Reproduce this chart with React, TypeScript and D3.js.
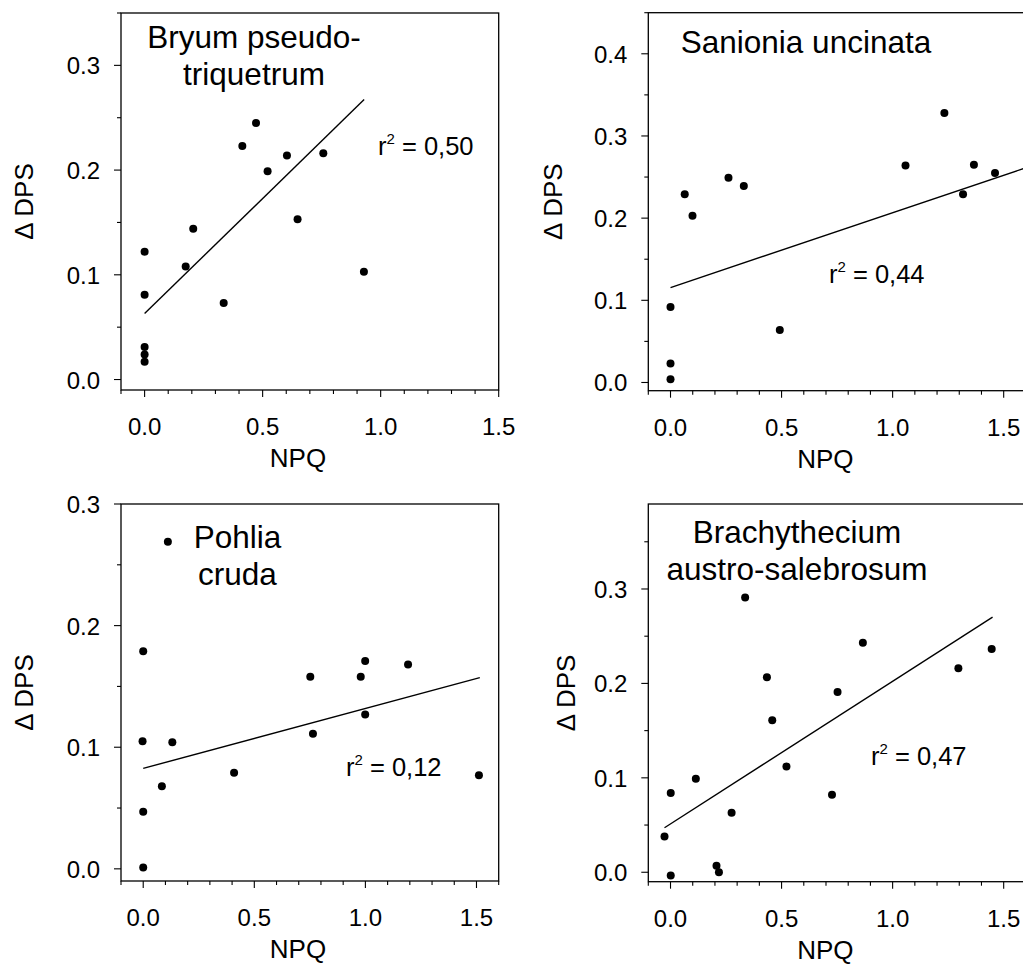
import React from "react";
import * as d3 from "d3";

// ---- data ----
const bryumNPQ = [0, 0, 0, 0, 0, 0.174, 0.206, 0.335, 0.414, 0.472, 0.521, 0.603, 0.648, 0.757, 0.929];
const bryumDPS = [0.122, 0.081, 0.031, 0.024, 0.017, 0.108, 0.144, 0.073, 0.223, 0.245, 0.199, 0.214, 0.153, 0.216, 0.103];

const sanioniaNPQ = [0, 0, 0, 0.064, 0.099, 0.261, 0.33, 0.492, 1.058, 1.233, 1.317, 1.366, 1.461];
const sanioniaDPS = [0.092, 0.023, 0.004, 0.229, 0.203, 0.249, 0.239, 0.064, 0.264, 0.328, 0.229, 0.265, 0.255];

const pohliaNPQ = [0.111, 0, -0.003, 0.131, 0, 0.084, 0, 0.409, 0.752, 0.764, 0.979, 0.999, 0.999, 1.192, 1.511];
const pohliaDPS = [0.269, 0.179, 0.105, 0.104, 0.047, 0.068, 0.001, 0.079, 0.158, 0.111, 0.158, 0.171, 0.127, 0.168, 0.077];

const brachyNPQ = [-0.027, 0.001, 0.001, 0.114, 0.207, 0.218, 0.275, 0.336, 0.434, 0.458, 0.522, 0.727, 0.752, 0.866, 1.296, 1.446];
const brachyDPS = [0.038, 0.084, -0.0035, 0.099, 0.007, 0.0, 0.063, 0.291, 0.2065, 0.161, 0.112, 0.082, 0.191, 0.243, 0.216, 0.2365];

// regression lines: [intercept, slope, xStart, xEnd]
const bryumFit = [0.063, 0.2197, 0, 0.93];
const sanioniaFit = [0.1155, 0.0911, 0, 1.6];
const pohliaFit = [0.0826, 0.0493, 0, 1.515];
const brachyFit = [0.0512, 0.151, -0.027, 1.45];

const r2Labels = ["0,50", "0,44", "0,12", "0,47"];

const xTickValues = [0, 0.5, 1.0, 1.5];
const xTickLabels = ["0.0", "0.5", "1.0", "1.5"];
const yTicksBryum = [0, 0.1, 0.2, 0.3];
const yTicksSanionia = [0, 0.1, 0.2, 0.3, 0.4];
const yTicksPohlia = [0, 0.1, 0.2, 0.3];
const yTicksBrachy = [0, 0.1, 0.2, 0.3];

const FONT = "'Liberation Sans', Arial, Helvetica, sans-serif";

type PanelProps = {
  left: number;
  top: number;
  width: number;
  height: number;
  xDomain: [number, number];
  yDomain: [number, number];
  yTicks: number[];
  npq: number[];
  dps: number[];
  fit: number[];
  title: string[];
  titleX: number;
  titleY: number[];
  r2: string;
  r2X: number;
  r2Y: number;
  yLabelX: number;
};

function Panel(p: PanelProps) {
  const x = d3.scaleLinear().domain(p.xDomain).range([p.left, p.left + p.width]);
  const y = d3.scaleLinear().domain(p.yDomain).range([p.top + p.height, p.top]);
  const bottom = p.top + p.height;
  const xMinor = d3
    .range(Math.round(p.xDomain[0] * 10), Math.round(p.xDomain[1] * 10) + 1)
    .map((k) => k / 10)
    .filter((v) => v <= p.xDomain[1] + 1e-9)
    .filter((v) => !xTickValues.some((m) => Math.abs(m - v) < 1e-6));
  const yMinor = d3
    .range(1, Math.round(p.yDomain[1] * 20) + 1)
    .map((k) => k / 20)
    .filter((v) => v <= p.yDomain[1] + 1e-9)
    .filter((v) => !p.yTicks.some((m) => Math.abs(m - v) < 1e-6));
  const line = d3.line<number>().x((v) => x(v)).y((v) => y(p.fit[0] + p.fit[1] * v));
  const midY = p.top + p.height / 2;
  return (
    <g>
      <rect x={p.left} y={p.top} width={p.width} height={p.height} fill="none" stroke="#000" strokeWidth={1.3} />
      {/* x ticks */}
      {xTickValues.map((v, i) => (
        <g key={"xm" + i}>
          <line x1={x(v)} x2={x(v)} y1={bottom} y2={bottom + 7} stroke="#000" strokeWidth={1.1} />
          <text x={x(v)} y={bottom + 45} textAnchor="middle" fontSize={24} fontFamily={FONT}>
            {xTickLabels[i]}
          </text>
        </g>
      ))}
      {xMinor.map((v, i) => (
        <line key={"xn" + i} x1={x(v)} x2={x(v)} y1={bottom} y2={bottom + 4} stroke="#000" strokeWidth={1.1} />
      ))}
      {/* y ticks */}
      {p.yTicks.map((v, i) => (
        <g key={"ym" + i}>
          <line x1={p.left - 7} x2={p.left} y1={y(v)} y2={y(v)} stroke="#000" strokeWidth={1.1} />
          <text x={p.left - 21} y={y(v) + 9} textAnchor="end" fontSize={24} fontFamily={FONT}>
            {v.toFixed(1)}
          </text>
        </g>
      ))}
      {yMinor.map((v, i) => (
        <line key={"yn" + i} x1={p.left - 4} x2={p.left} y1={y(v)} y2={y(v)} stroke="#000" strokeWidth={1.1} />
      ))}
      {/* axis titles */}
      <text x={p.left + 177} y={bottom + 77} textAnchor="middle" fontSize={26} fontFamily={FONT}>
        NPQ
      </text>
      <text
        transform={`translate(${p.yLabelX},${midY}) rotate(-90)`}
        textAnchor="middle"
        fontSize={26}
        fontFamily={FONT}
      >
        {"\u0394 DPS"}
      </text>
      {/* regression line */}
      <path d={line([p.fit[2], p.fit[3]]) || ""} fill="none" stroke="#000" strokeWidth={1.4} />
      {/* points */}
      {p.npq.map((v, i) => (
        <circle key={"pt" + i} cx={x(v)} cy={y(p.dps[i])} r={4} fill="#000" />
      ))}
      {/* species title */}
      {p.title.map((t, i) => (
        <text key={"t" + i} x={p.titleX} y={p.titleY[i]} textAnchor="middle" fontSize={31.5} fontFamily={FONT}>
          {t}
        </text>
      ))}
      {/* r2 */}
      <text x={p.r2X} y={p.r2Y} fontSize={25.5} fontFamily={FONT}>
        r
        <tspan dy={-11} fontSize={15}>
          2
        </tspan>
        <tspan dy={11}>{" = " + p.r2}</tspan>
      </text>
    </g>
  );
}

export default function App() {
  return (
    <svg
      width={1023}
      height={964}
      style={{ position: "absolute", left: 0, top: 0, background: "#fff" }}
    >
      <rect x={0} y={0} width={1023} height={964} fill="#fff" />
      <Panel
        left={121}
        top={13}
        width={377.7}
        height={377}
        xDomain={[-0.1, 1.5]}
        yDomain={[-0.01, 0.35]}
        yTicks={yTicksBryum}
        npq={bryumNPQ}
        dps={bryumDPS}
        fit={bryumFit}
        title={["Bryum pseudo-", "triquetrum"]}
        titleX={254}
        titleY={[48, 85]}
        r2={r2Labels[0]}
        r2X={378}
        r2Y={155}
        yLabelX={33}
      />
      <Panel
        left={648.3}
        top={12.7}
        width={377.6}
        height={378}
        xDomain={[-0.1, 1.6]}
        yDomain={[-0.01, 0.45]}
        yTicks={yTicksSanionia}
        npq={sanioniaNPQ}
        dps={sanioniaDPS}
        fit={sanioniaFit}
        title={["Sanionia uncinata"]}
        titleX={806}
        titleY={[53]}
        r2={r2Labels[1]}
        r2X={829}
        r2Y={283}
        yLabelX={562}
      />
      <Panel
        left={121}
        top={504}
        width={377.7}
        height={377}
        xDomain={[-0.1, 1.6]}
        yDomain={[-0.01, 0.3]}
        yTicks={yTicksPohlia}
        npq={pohliaNPQ}
        dps={pohliaDPS}
        fit={pohliaFit}
        title={["Pohlia", "cruda"]}
        titleX={237.5}
        titleY={[548, 585]}
        r2={r2Labels[2]}
        r2X={346}
        r2Y={776}
        yLabelX={33}
      />
      <Panel
        left={648.3}
        top={504}
        width={377.6}
        height={377.7}
        xDomain={[-0.1, 1.6]}
        yDomain={[-0.01, 0.39]}
        yTicks={yTicksBrachy}
        npq={brachyNPQ}
        dps={brachyDPS}
        fit={brachyFit}
        title={["Brachythecium", "austro-salebrosum"]}
        titleX={797}
        titleY={[543, 580]}
        r2={r2Labels[3]}
        r2X={871}
        r2Y={765}
        yLabelX={575}
      />
    </svg>
  );
}
